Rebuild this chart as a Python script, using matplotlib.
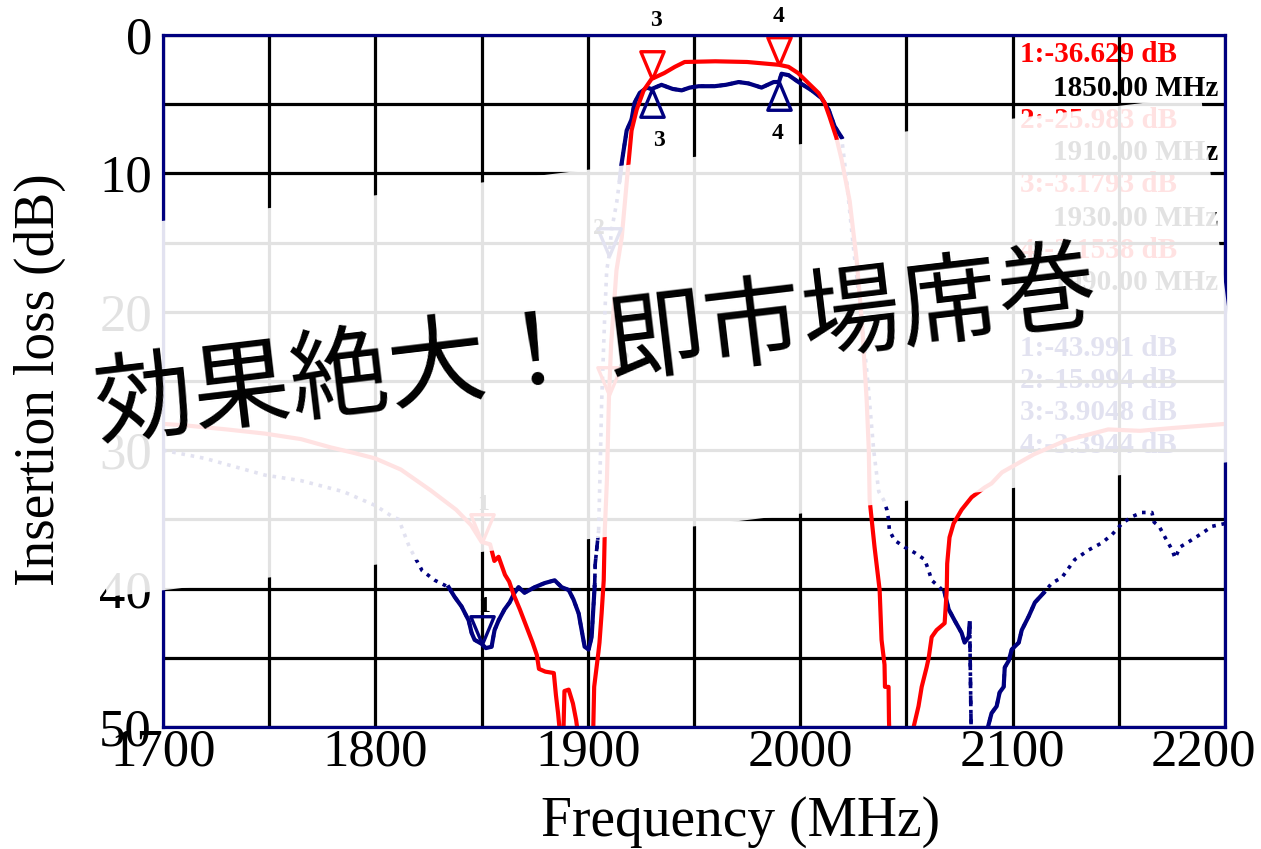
import numpy as np
import matplotlib.pyplot as plt
from matplotlib.ticker import MultipleLocator
from matplotlib.patches import Polygon
from matplotlib.transforms import ScaledTranslation

# Measured S21 traces (frequency in MHz, insertion loss in dB; >50 runs off the grid)
red_freq = [1700, 1710, 1730, 1748, 1765, 1779, 1790, 1800, 1812, 1826, 1838, 1845,
            1850, 1854, 1856, 1858, 1861, 1863, 1865, 1868, 1870, 1872, 1874, 1876,
            1877, 1880, 1884, 1885, 1886, 1887, 1888.5, 1889, 1891, 1893, 1894.5,
            1895.5, 1902.5, 1903, 1905, 1905.5, 1906.5, 1907.5, 1908, 1909, 1910,
            1911, 1913.5, 1916, 1918.4, 1919.2, 1920.6, 1923, 1926.3, 1930, 1936,
            1941, 1945.6, 1960, 1975, 1990, 1994.5, 1999, 2004, 2008.7, 2011.5,
            2013.8, 2017, 2019.5, 2023.3, 2026.6, 2029, 2031.3, 2032.3, 2032.7, 2035,
            2037.4, 2038.3, 2039.7, 2039.9, 2041.6, 2041.8, 2042, 2053, 2053.4,
            2055.7, 2057.2, 2059.5, 2060.5, 2061.9, 2064.2, 2068, 2069, 2069.2,
            2070.3, 2072.2, 2076, 2080.7, 2086.8, 2090.1, 2095, 2110, 2125, 2145,
            2160, 2175, 2200]
red_loss = [28.1, 28.2, 28.5, 28.8, 29.2, 29.8, 30.2, 30.6, 31.4, 32.9, 34.3, 35.4,
            36.629, 36.8, 38.0, 37.7, 39.0, 39.5, 40.4, 41.5, 42.3, 43.1, 43.9, 44.8,
            45.8, 46.0, 46.1, 47.7, 49.0, 50.6, 50.6, 47.4, 47.3, 48.3, 49.5,
            50.6, 50.6, 47.1, 44.6, 43.9, 41.8, 39.4, 35.8, 32.2, 25.983,
            22.3, 17.0, 14.6, 10.5, 9.2, 6.9, 5.4, 4.0, 3.1793, 2.75,
            2.3, 1.95, 1.9, 1.95, 2.1538, 2.3, 2.75, 3.5, 4.2, 4.9,
            5.9, 7.4, 9.0, 12.0, 16.3, 20.6, 26.4, 30.0, 33.6, 37.0,
            40.1, 43.7, 45.5, 47.1, 47.1, 49.5, 50.6, 50.6, 50.0,
            48.5, 47.1, 45.7, 45.0, 43.5, 43.0, 42.5, 40.1, 38.2,
            36.3, 35.3, 34.3, 33.4, 32.7, 32.4, 31.6, 30.3, 29.3, 28.5,
            28.6, 28.4, 28.1]

blue_freq = [1700, 1720, 1748, 1765, 1785, 1800, 1808, 1811, 1816, 1822, 1828,
             1834.5, 1837.3, 1840.6, 1843.9, 1845.3, 1846.7, 1850, 1852, 1854.7,
             1856.1, 1858, 1860.8, 1863.2, 1865.5, 1867.4, 1870.2, 1875, 1879.7,
             1884.4, 1887.7, 1891, 1893.3, 1895.7, 1897.1, 1898.5, 1900.4, 1901.8,
             1903.2, 1903.5, 1905.1, 1905.8, 1906.5, 1907.9, 1908.9, 1910, 1911.2,
             1913.6, 1915, 1916, 1916.9, 1918.3, 1920.6, 1922, 1924.4, 1927.7, 1930,
             1934.7, 1940, 1944.2, 1948, 1952.2, 1959.7, 1965, 1971, 1975.7, 1981.8,
             1987.5, 1990, 1991.2, 1994.5, 1999.2, 2005.4, 2010, 2013.4, 2016.2,
             2019.5, 2021.5, 2024.8, 2028.5, 2031.8, 2034.6, 2037, 2039.3, 2040.8,
             2041.6, 2042, 2044.4, 2049.1, 2053.8, 2058.6, 2060.5, 2061.9, 2065.6,
             2068, 2069.9, 2072.7, 2076, 2077.4, 2079.3, 2079.8, 2080.5, 2081, 2088,
             2088.4, 2090.1, 2092.5, 2093.9, 2095.8, 2096.3, 2098.2, 2099.6, 2102.9,
             2104.3, 2107.6, 2110.5, 2114.7, 2118.5, 2123.2, 2129.3, 2135.9, 2142,
             2146.8, 2151.5, 2156.2, 2160.9, 2165.6, 2166.6, 2169, 2171.8, 2175.1,
             2176.5, 2178.8, 2183.1, 2189.2, 2193.9, 2200]
blue_loss = [30.0, 30.6, 31.8, 32.2, 33.0, 34.0, 34.8, 35.0, 37.0, 38.7, 39.4,
             39.9, 40.6, 41.3, 42.3, 43.2, 43.7, 43.991, 44.3, 44.2,
             43.0, 42.3, 41.5, 41.0, 40.3, 39.9, 40.3, 39.9, 39.6,
             39.4, 39.9, 40.1, 40.8, 41.8, 43.0, 44.2, 44.4, 43.5,
             39.9, 38.2, 35.8, 31.4, 26.6, 20.6, 17.0, 15.994, 14.1,
             12.1, 10.5, 9.2, 8.3, 6.9, 6.1, 4.9, 4.2, 3.8, 3.9048,
             3.6, 3.9, 4.0, 3.8, 3.7, 3.7, 3.6, 3.4, 3.5, 3.8,
             3.4, 3.3944, 2.8, 2.9, 3.4, 4.0, 4.55, 5.4, 6.6,
             7.4, 10.0, 15.0, 20.0, 25.0, 30.0, 33.0, 33.6, 34.3,
             35.0, 35.8, 36.5, 37.0, 37.4, 37.9, 38.7, 39.4, 39.9,
             40.3, 41.5, 42.3, 43.2, 43.9, 43.5, 42.5, 50.5, 51.0, 51.0,
             50.0, 49.0, 48.5, 47.5, 47.1, 45.7, 45.2, 44.4, 43.9,
             43.0, 42.0, 41.0, 40.3, 39.6, 39.2, 37.9, 37.2, 36.7,
             36.1, 35.3, 34.8, 34.5, 34.5, 35.2, 35.5, 36.3, 37.2,
             37.8, 37.0, 36.6, 36.0, 35.5, 35.3]

# where the blue trace is drawn solid / dashed instead of dotted
blue_solid_spans = [(1834.5, 1903.2), (1915, 2019.5), (2068, 2079.8), (2088, 2114.7)]
blue_dashed_spans = [(1903.2, 1905.1), (2079.8, 2081)]

# marker table
marker_freq = [1850, 1910, 1930, 1990]
red_marker_db = [36.629, 25.983, 3.1793, 2.1538]
blue_marker_db = [43.991, 15.994, 3.9048, 3.3944]

RED = '#ff0000'
NAVY = '#00007f'
W, H = 1261, 849

plt.rcParams['font.family'] = ['Liberation Serif', 'DejaVu Serif']

fig = plt.figure(figsize=(W / 100, H / 100), dpi=100)
ax = fig.add_axes([163 / W, 1 - 727 / H, 1062 / W, 692 / H])

ax.set_xlim(1700, 2200)
ax.set_ylim(50, 0)
ax.set_xticks(np.arange(1700, 2201, 100))
ax.xaxis.set_minor_locator(MultipleLocator(50))
ax.yaxis.set_major_locator(MultipleLocator(10))
ax.yaxis.set_minor_locator(MultipleLocator(5))
ax.set_axisbelow('line')
ax.grid(which='both', color='black', lw=2.3)
ax.tick_params(which='both', length=0, labelsize=38)
ax.tick_params(axis='x', pad=1)
ax.tick_params(axis='y', pad=8)
for sp in ax.spines.values():
    sp.set_color(NAVY)
    sp.set_linewidth(2.3)
    sp.set_zorder(3)

# keep the last frequency label inside the canvas
last = ax.get_xticklabels()[-1]
last.set_transform(last.get_transform() + ScaledTranslation(-0.22, 0, fig.dpi_scale_trans))

# red trace
ax.plot(red_freq, red_loss, color=RED, lw=3.0, zorder=2.2)

# blue trace: dotted everywhere, solid/dashed over the marked spans
bf = np.array(blue_freq)
bl = np.array(blue_loss)
ax.plot(bf, bl, color=NAVY, lw=2.6, ls=(0, (1, 1.6)), zorder=2.1)
for lo, hi in blue_solid_spans:
    m = (bf >= lo) & (bf <= hi)
    ax.plot(bf[m], bl[m], color=NAVY, lw=3.0, zorder=2.1)
for lo, hi in blue_dashed_spans:
    m = (bf >= lo) & (bf <= hi)
    ax.plot(bf[m], bl[m], color=NAVY, lw=2.6, ls=(0, (3, 2)), zorder=2.1)

# marker triangles, apex on the trace
tri_down = [(0, 0), (-0.42, 1), (0.42, 1), (0, 0)]
tri_up = [(0, 0), (-0.42, -1), (0.42, -1), (0, 0)]
ax.plot(marker_freq, red_marker_db, ls='none', marker=tri_down, ms=40,
        mfc='none', mec=RED, mew=2.4, zorder=2.5, clip_on=False)
ax.plot(marker_freq[:2], blue_marker_db[:2], ls='none', marker=tri_down, ms=40,
        mfc='none', mec=NAVY, mew=2.4, zorder=2.5)
ax.plot(marker_freq[2:], blue_marker_db[2:], ls='none', marker=tri_up, ms=40,
        mfc='none', mec=NAVY, mew=2.4, zorder=2.5)

red_num_off = [(1, 27), (11, 24), (3, 42), (0, 35)]
blue_num_off = [(2, 27), (-7, 20), (5, -37), (-1, -37)]
for i, f in enumerate(marker_freq):
    ax.annotate(str(i + 1), (f, red_marker_db[i]), xytext=red_num_off[i],
                textcoords='offset points', ha='center', va='center',
                fontsize=17, fontweight='bold', annotation_clip=False, zorder=2.6)
    ax.annotate(str(i + 1), (f, blue_marker_db[i]), xytext=blue_num_off[i],
                textcoords='offset points', ha='center', va='center',
                fontsize=17, fontweight='bold', annotation_clip=False, zorder=2.6)

# marker readout in the upper right corner
for i, f in enumerate(marker_freq):
    y0 = 55 + 65 * i
    ax.text(1020 / W, 1 - y0 / H, f'{i + 1}:-{red_marker_db[i]:.5g} dB',
            transform=fig.transFigure, color=RED, fontsize=21, fontweight='bold',
            ha='left', va='center', zorder=1)
    ax.text(1218 / W, 1 - (y0 + 33) / H, f'{f:.2f} MHz',
            transform=fig.transFigure, color='black', fontsize=21, fontweight='bold',
            ha='right', va='center', zorder=1)
    ax.text(1020 / W, 1 - (348 + 32.5 * i) / H, f'{i + 1}:-{blue_marker_db[i]:.5g} dB',
            transform=fig.transFigure, color=NAVY, fontsize=21, fontweight='bold',
            ha='left', va='center', zorder=1)

fig.text(741 / W, 1 - 822 / H, 'Frequency (MHz)', fontsize=40, ha='center', va='center')
fig.text(40 / W, 1 - 380 / H, 'Insertion loss (dB)', fontsize=40, rotation=90,
         ha='center', va='center')

# tilted translucent banner with the slogan
band_px = [(62, 233), (1201, 96), (1246, 460), (107, 597)]
band = Polygon([(x / W, 1 - y / H) for x, y in band_px], closed=True,
               transform=fig.transFigure, facecolor='white', edgecolor='none',
               alpha=0.89, zorder=10)
fig.add_artist(band)

cjk = ['Noto Sans CJK JP', 'DejaVu Sans']
fig.text(340 / W, 1 - 380 / H, '効果絶大！', family=cjk, fontsize=71, rotation=6.8,
         rotation_mode='anchor', ha='center', va='center', zorder=11)
fig.text(852 / W, 1 - 318 / H, '即市場席巻', family=cjk, fontsize=71, rotation=6.8,
         rotation_mode='anchor', ha='center', va='center', zorder=11)

fig.savefig('out.png', dpi=100)
